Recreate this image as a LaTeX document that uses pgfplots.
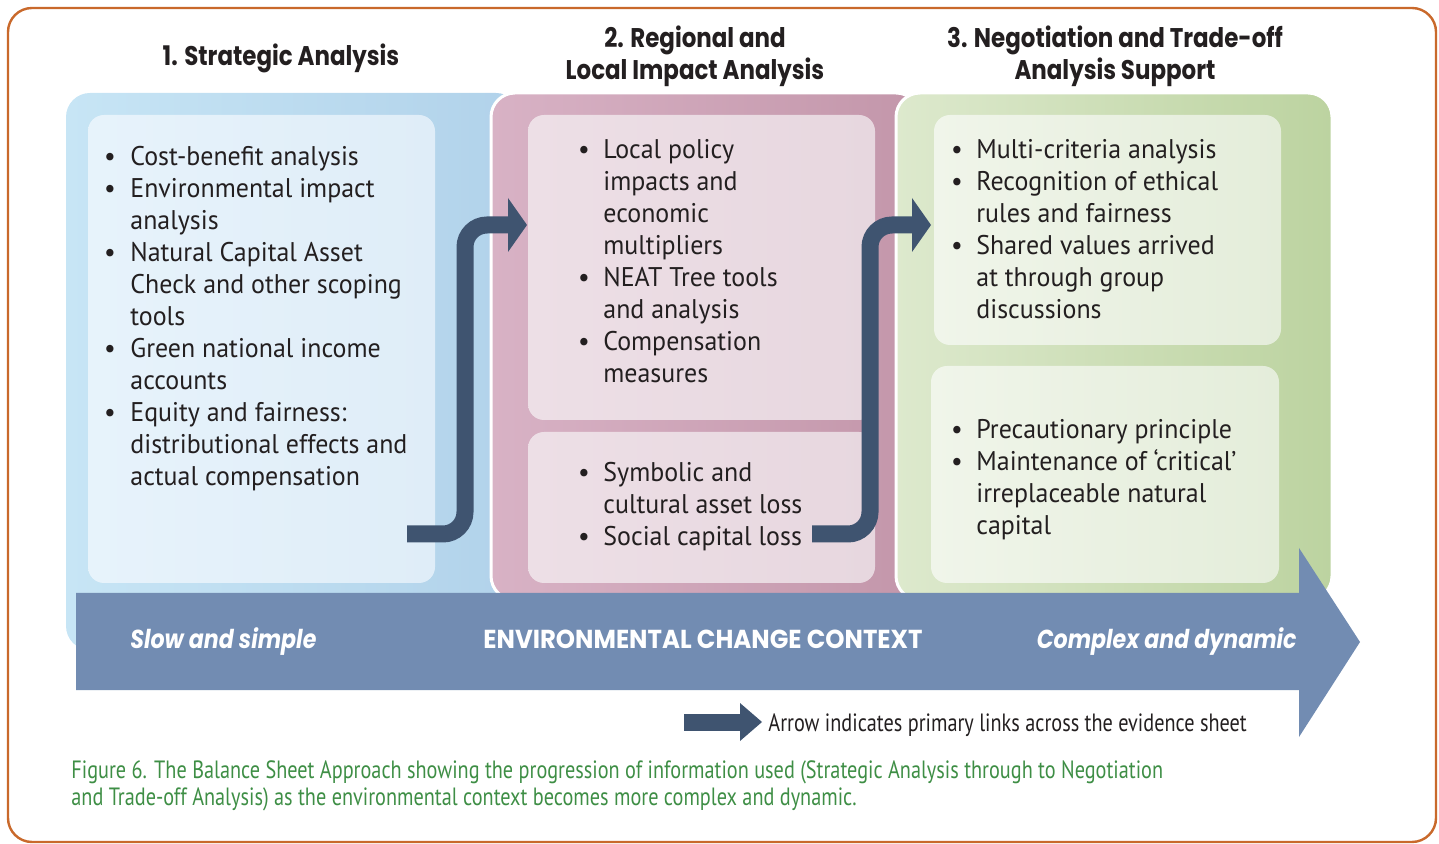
\documentclass[border=0pt]{standalone}
\usepackage{fontspec}
\usepackage{pgfplots}
\pgfplotsset{compat=1.18}
\setmainfont{PT Sans}[FakeStretch=0.96]
\newfontfamily\titlefont{Poppins}[FakeStretch=0.85]
\newfontfamily\bandfont{Poppins}[FakeStretch=0.94]
\newfontfamily\capfont{PT Sans}[FakeStretch=0.81]
\definecolor{orangeb}{HTML}{C9692B}
\definecolor{blueA}{HTML}{C7E5F5}
\definecolor{blueB}{HTML}{B1D2EA}
\definecolor{blueiA}{HTML}{E7F3FB}
\definecolor{blueiB}{HTML}{DFEDF8}
\definecolor{pinkA}{HTML}{D8B2C5}
\definecolor{pinkB}{HTML}{C396AA}
\definecolor{pinkiA}{HTML}{EDDFE6}
\definecolor{pinkiB}{HTML}{E7D7DF}
\definecolor{greenA}{HTML}{DDE9CD}
\definecolor{greenB}{HTML}{BCD3A0}
\definecolor{greeniA}{HTML}{F0F5EA}
\definecolor{greeniB}{HTML}{E4EDDA}
\definecolor{band}{HTML}{728CB2}
\definecolor{darkarrow}{HTML}{3F5470}
\definecolor{capgreen}{HTML}{3E8E45}
\definecolor{txt}{HTML}{231F20}
\newcommand{\bl}[3]{\node[anchor=base west,inner sep=0pt,text=txt,font=\fontsize{13.5}{16}\selectfont] at (axis cs:#1,#2) {#3};}
\newcommand{\bu}[2]{\node[anchor=base,inner sep=0pt,text=txt,font=\fontsize{13.5}{16}\selectfont] at (axis cs:#1,#2) {•};}
\begin{document}
\begin{tikzpicture}
\begin{axis}[
  scale only axis, width=719.5pt, height=421.5pt,
  xmin=0, xmax=1439, ymin=0, ymax=843, y dir=reverse,
  hide axis, clip=false]
\path (rel axis cs:0,0) rectangle (rel axis cs:1,1);
% outer orange frame
\addplot[draw=orangeb, line width=1.2pt, rounded corners=12pt] coordinates {(700,8)(1436,8)(1436,842)(8,842)(8,8)} -- cycle;
% blue panel
\addplot[draw=none, left color=blueA, right color=blueB, rounded corners=12pt] coordinates {(300,93)(520,93)(520,650)(66,650)(66,93)} -- cycle;
% pink panel
\addplot[draw=white, line width=1.5pt, left color=pinkA, right color=pinkB, rounded corners=12pt] coordinates {(700,93)(920,93)(920,600)(491,600)(491,93)} -- cycle;
% green panel
\addplot[draw=white, line width=1.5pt, left color=greenA, right color=greenB, rounded corners=12pt] coordinates {(1100,93)(1332,93)(1332,600)(896,600)(896,93)} -- cycle;
% inner boxes
\addplot[draw=none, left color=blueiA, right color=blueiB, rounded corners=8pt] coordinates {(260,115)(435,115)(435,583)(88,583)(88,115)} -- cycle;
\addplot[draw=none, left color=pinkiA, right color=pinkiB, rounded corners=8pt] coordinates {(700,115)(875,115)(875,420)(528,420)(528,115)} -- cycle;
\addplot[draw=none, left color=pinkiA, right color=pinkiB, rounded corners=8pt] coordinates {(700,432)(875,432)(875,583)(528,583)(528,432)} -- cycle;
\addplot[draw=none, left color=greeniA, right color=greeniB, rounded corners=8pt] coordinates {(1100,115)(1281,115)(1281,345)(934,345)(934,115)} -- cycle;
\addplot[draw=none, left color=greeniA, right color=greeniB, rounded corners=8pt] coordinates {(1100,366)(1279,366)(1279,583)(931,583)(931,366)} -- cycle;
% dark link arrows
\addplot[draw=darkarrow, line width=8.5pt, rounded corners=11pt, line cap=butt] coordinates {(407,534)(465,534)(465,225)(512,225)};
\addplot[fill=darkarrow, draw=none] coordinates {(508,198)(527,225)(508,252)} -- cycle;
\addplot[draw=darkarrow, line width=8.5pt, rounded corners=11pt, line cap=butt] coordinates {(812,534)(870,534)(870,225)(916,225)};
\addplot[fill=darkarrow, draw=none] coordinates {(912,198)(931,225)(912,252)} -- cycle;
% big context arrow
\addplot[fill=band, draw=none] coordinates {(76,593)(1299,593)(1299,548)(1360,642)(1299,737)(1299,690)(76,690)} -- cycle;
% legend arrow
\addplot[draw=darkarrow, line width=8.5pt, line cap=butt] coordinates {(684,722)(742,722)};
\addplot[fill=darkarrow, draw=none] coordinates {(740,703)(762,722)(740,741)} -- cycle;
% titles
\node[anchor=base,inner sep=0pt,text=txt,font=\titlefont\bfseries\fontsize{13.5}{16}\selectfont] at (axis cs:281,66) {1. Strategic Analysis};
\node[anchor=base,inner sep=0pt,text=txt,font=\titlefont\bfseries\fontsize{13.5}{16}\selectfont] at (axis cs:695,48) {2. Regional and};
\node[anchor=base,inner sep=0pt,text=txt,font=\titlefont\bfseries\fontsize{13.5}{16}\selectfont] at (axis cs:695,80) {Local Impact Analysis};
\node[anchor=base,inner sep=0pt,text=txt,font=\titlefont\bfseries\fontsize{13.5}{16}\selectfont] at (axis cs:1115,48) {3. Negotiation and Trade-off};
\node[anchor=base,inner sep=0pt,text=txt,font=\titlefont\bfseries\fontsize{13.5}{16}\selectfont] at (axis cs:1115,80) {Analysis Support};
% column 1
\bu{110}{166}\bl{130}{166}{Cost-benefit analysis}
\bu{110}{198}\bl{130}{198}{Environmental impact}
\bl{130}{230}{analysis}
\bu{110}{262}\bl{130}{262}{Natural Capital Asset}
\bl{130}{294}{Check and other scoping}
\bl{130}{326}{tools}
\bu{110}{358}\bl{130}{358}{Green national income}
\bl{130}{390}{accounts}
\bu{110}{422}\bl{130}{422}{Equity and fairness:}
\bl{130}{454}{distributional effects and}
\bl{130}{486}{actual compensation}
% column 2 top
\bu{584}{159}\bl{603}{159}{Local policy}
\bl{603}{191}{impacts and}
\bl{603}{223}{economic}
\bl{603}{255}{multipliers}
\bu{584}{287}\bl{603}{287}{NEAT Tree tools}
\bl{603}{319}{and analysis}
\bu{584}{351}\bl{603}{351}{Compensation}
\bl{603}{383}{measures}
% column 2 bottom
\bu{584}{482}\bl{603}{482}{Symbolic and}
\bl{603}{514}{cultural asset loss}
\bu{584}{546}\bl{603}{546}{Social capital loss}
% column 3 top
\bu{957}{159}\bl{976}{159}{Multi-criteria analysis}
\bu{957}{191}\bl{976}{191}{Recognition of ethical}
\bl{976}{223}{rules and fairness}
\bu{957}{255}\bl{976}{255}{Shared values arrived}
\bl{976}{287}{at through group}
\bl{976}{319}{discussions}
% column 3 bottom
\bu{957}{439}\bl{976}{439}{Precautionary principle}
\bu{957}{471}\bl{976}{471}{Maintenance of ‘critical’}
\bl{976}{503}{irreplaceable natural}
\bl{976}{535}{capital}
% band texts
\node[anchor=base west,inner sep=0pt,text=white,font=\titlefont\bfseries\itshape\fontsize{13}{15}\selectfont] at (axis cs:130,648) {Slow and simple};
\node[anchor=base,inner sep=0pt,text=white,font=\bandfont\bfseries\fontsize{13}{15}\selectfont] at (axis cs:703,648) {ENVIRONMENTAL CHANGE CONTEXT};
\node[anchor=base east,inner sep=0pt,text=white,font=\titlefont\bfseries\itshape\fontsize{13}{15}\selectfont] at (axis cs:1297,648) {Complex and dynamic};
% legend text
\node[anchor=base west,inner sep=0pt,text=txt,font=\capfont\fontsize{12.5}{14}\selectfont] at (axis cs:768,731) {Arrow indicates primary links across the evidence sheet};
% caption
\node[anchor=base west,inner sep=0pt,text=capgreen,font=\capfont\fontsize{12.5}{14}\selectfont] at (axis cs:71,778) {Figure 6. The Balance Sheet Approach showing the progression of information used (Strategic Analysis through to Negotiation};
\node[anchor=base west,inner sep=0pt,text=capgreen,font=\capfont\fontsize{12.5}{14}\selectfont] at (axis cs:71,805) {and Trade-off Analysis) as the environmental context becomes more complex and dynamic.};
\end{axis}
\end{tikzpicture}
\end{document}
